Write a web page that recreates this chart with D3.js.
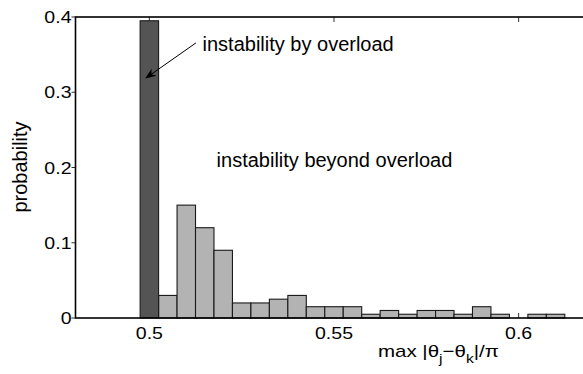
<!DOCTYPE html>
<html>
<head>
<meta charset="utf-8">
<script src="https://cdn.jsdelivr.net/npm/d3@7"></script>
<style>
  html, body { margin: 0; padding: 0; background: #fff; }
  svg { display: block; }
  text { font-family: "Liberation Sans", Arial, Helvetica, sans-serif; fill: #000; }
</style>
</head>
<body>
<svg id="chart" width="583" height="374"></svg>
<script>
// ---- data ----
const binWidth = 0.005;
const overloadCenters = [0.5];
const overloadValues = [0.395];
const beyondCenters = [0.505, 0.51, 0.515, 0.52, 0.525, 0.53, 0.535, 0.54, 0.545, 0.55,
                       0.555, 0.56, 0.565, 0.57, 0.575, 0.58, 0.585, 0.59, 0.595, 0.6, 0.605, 0.61];
const beyondValues  = [0.03, 0.15, 0.12, 0.09, 0.02, 0.02, 0.025, 0.03, 0.015, 0.015,
                       0.015, 0.005, 0.01, 0.005, 0.01, 0.01, 0.005, 0.015, 0.005, 0, 0.005, 0.005];
const xTicks = [0.5, 0.55, 0.6];
const xTickLabels = ["0.5", "0.55", "0.6"];
const yTicks = [0, 0.1, 0.2, 0.3, 0.4];
const yTickLabels = ["0", "0.1", "0.2", "0.3", "0.4"];
const xDomain = [0.48, 0.62];
const yDomain = [0, 0.4];
const yLabel = "probability";
const annoOverload = { text: "instability by overload", x: 0.5144, y: 0.3548 };
const annoBeyond = { text: "instability beyond overload", x: 0.5182, y: 0.201 };
const arrowFrom = [0.5126, 0.3655];
const arrowTo = [0.4991, 0.319];

// ---- layout ----
const svg = d3.select("#chart");
const x = d3.scaleLinear().domain(xDomain).range([75.5, 592.5]);
const y = d3.scaleLinear().domain(yDomain).range([318, 17]);

svg.append("defs").append("marker")
  .attr("id", "ah").attr("viewBox", "0 0 10 10").attr("refX", 9).attr("refY", 5)
  .attr("markerWidth", 11).attr("markerHeight", 11).attr("markerUnits", "userSpaceOnUse")
  .attr("orient", "auto")
  .append("path").attr("d", "M0,1 L10,5 L0,9 L3,5 Z").attr("fill", "#000");

// ticks (drawn before bars so bars cover them)
const tickG = svg.append("g").attr("stroke", "#333").attr("stroke-width", 1);
xTicks.forEach(t => {
  tickG.append("line").attr("x1", x(t)).attr("x2", x(t)).attr("y1", y(0)).attr("y2", y(0) - 5);
  tickG.append("line").attr("x1", x(t)).attr("x2", x(t)).attr("y1", y(0.4)).attr("y2", y(0.4) + 5);
});
yTicks.forEach(t => {
  tickG.append("line").attr("x1", x(xDomain[0]) - 4).attr("x2", x(xDomain[0])).attr("y1", y(t)).attr("y2", y(t));
});

// bars
function drawBars(centers, values, fill) {
  svg.append("g").selectAll("rect")
    .data(centers.map((c, i) => ({ c, v: values[i] })).filter(d => d.v > 0))
    .join("rect")
    .attr("x", d => x(d.c - binWidth / 2))
    .attr("width", d => x(d.c + binWidth / 2) - x(d.c - binWidth / 2))
    .attr("y", d => y(d.v))
    .attr("height", d => y(0) - y(d.v))
    .attr("fill", fill)
    .attr("stroke", "#1a1a1a")
    .attr("stroke-width", 1.1);
}
drawBars(beyondCenters, beyondValues, "#b3b3b3");
drawBars(overloadCenters, overloadValues, "#545454");

// frame (top, left, bottom; right is beyond the window)
const frame = svg.append("g").attr("stroke", "#000").attr("stroke-width", 1.6).attr("fill", "none");
frame.append("rect").attr("x", x(xDomain[0])).attr("y", y(yDomain[1]))
  .attr("width", x(xDomain[1]) - x(xDomain[0])).attr("height", y(0) - y(yDomain[1]));

// tick labels (horizontally stretched like the reference)
const sxTick = 1.15;
xTicks.forEach((t, i) => {
  svg.append("g").attr("transform", `translate(${x(t)},339) scale(${sxTick},1)`)
    .append("text").attr("text-anchor", "middle").attr("font-size", 17).text(xTickLabels[i]);
});
yTicks.forEach((t, i) => {
  svg.append("g").attr("transform", `translate(71.5,${y(t) + 6}) scale(${sxTick},1)`)
    .append("text").attr("text-anchor", "end").attr("font-size", 17).text(yTickLabels[i]);
});

// y label
svg.append("text").attr("transform", "translate(27,167) rotate(-90)")
  .attr("text-anchor", "middle").attr("font-size", 20).text(yLabel);

// x label
const xl = svg.append("g").attr("transform", "translate(378,357)");
const xt = xl.append("text").attr("font-size", 17);
xt.append("tspan").text("max |\u03B8");
xt.append("tspan").attr("font-size", 13).attr("dy", 6).text("j");
xt.append("tspan").attr("dy", -6).text("\u2212\u03B8");
xt.append("tspan").attr("font-size", 13).attr("dy", 6).text("k");
xt.append("tspan").attr("dy", -6).text("|/\u03C0");
const w = xt.node().getBBox().width;
xl.attr("transform", `translate(378,357) scale(${121 / w},1)`);

// annotations
svg.append("text").attr("x", x(annoOverload.x)).attr("y", y(annoOverload.y))
  .attr("font-size", 20).text(annoOverload.text);
svg.append("text").attr("x", x(annoBeyond.x)).attr("y", y(annoBeyond.y))
  .attr("font-size", 20).text(annoBeyond.text);
svg.append("line")
  .attr("x1", x(arrowFrom[0])).attr("y1", y(arrowFrom[1]))
  .attr("x2", x(arrowTo[0])).attr("y2", y(arrowTo[1]))
  .attr("stroke", "#000").attr("stroke-width", 1).attr("marker-end", "url(#ah)");
</script>
</body>
</html>
